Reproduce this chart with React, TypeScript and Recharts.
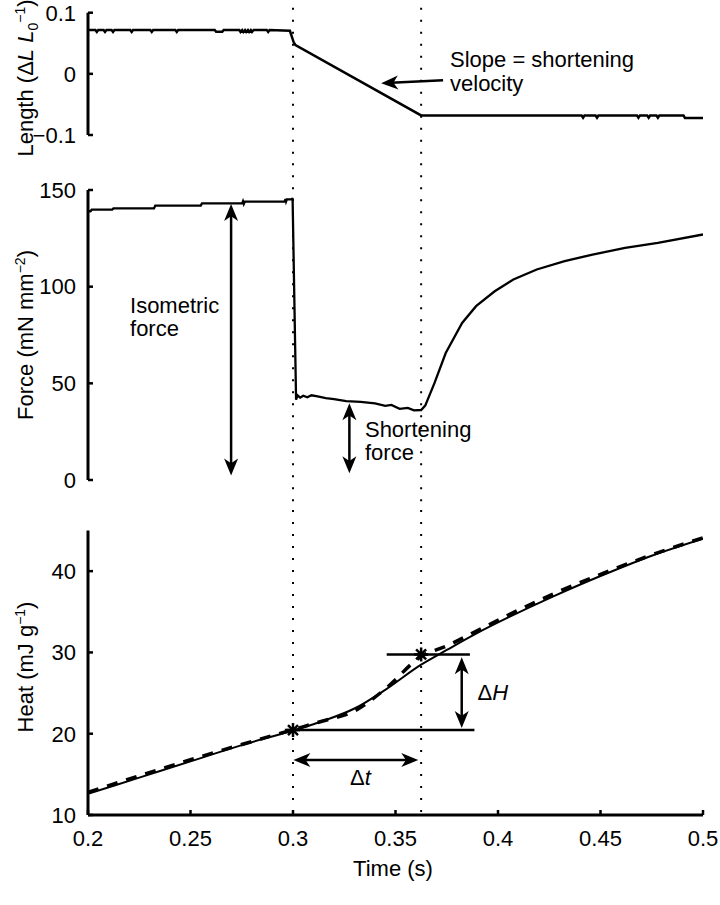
import React from 'react';
import { LineChart, Line, XAxis, YAxis, ReferenceLine, ReferenceDot } from 'recharts';

// ---------------- data ----------------
const xTicks = [0.2, 0.25, 0.3, 0.35, 0.4, 0.45, 0.5];
const lengthTicks = [-0.1, 0, 0.1];
const forceTicks = [0, 50, 100, 150];
const heatTicks = [10, 20, 30, 40];
const markerTimes = [0.3, 0.3625];

const lengthTime = [
  0.2, 0.2036, 0.2043, 0.205, 0.2076, 0.2083, 0.209, 0.2115, 0.2122, 0.2129,
  0.2206, 0.2213, 0.222, 0.2304, 0.2311, 0.2318, 0.2426, 0.2433, 0.244,
  0.2618, 0.2625, 0.2655, 0.2662,
  0.2738, 0.2744, 0.2752, 0.2758, 0.2766, 0.2772, 0.278, 0.2786, 0.2794, 0.28, 0.2808,
  0.2872, 0.2879, 0.2886, 0.2985, 0.3003, 0.3012, 0.3625,
  0.4408, 0.4415, 0.4422, 0.4476, 0.4483, 0.449, 0.4678, 0.4685, 0.4692,
  0.4728, 0.4735, 0.4742, 0.4773, 0.478, 0.4787, 0.4905, 0.4912, 0.5,
];
const lengthValues = [
  0.0717, 0.0717, 0.0685, 0.0717, 0.0717, 0.0685, 0.0717, 0.0717, 0.0685, 0.0717,
  0.0717, 0.0685, 0.0717, 0.0717, 0.0685, 0.0717, 0.0717, 0.0685, 0.0717,
  0.0717, 0.0688, 0.0688, 0.0717,
  0.0717, 0.0685, 0.0717, 0.0685, 0.0717, 0.0685, 0.0717, 0.0685, 0.0717, 0.0685, 0.0717,
  0.0717, 0.0685, 0.0717, 0.0705, 0.052, 0.047, -0.068,
  -0.0683, -0.0718, -0.0683, -0.0683, -0.0718, -0.0683, -0.0683, -0.0718, -0.0683,
  -0.0683, -0.0718, -0.0683, -0.0683, -0.0718, -0.0683, -0.0683, -0.0722, -0.0722,
];

const forceTime = [
  0.2, 0.2012, 0.2018, 0.2118, 0.2124, 0.2322, 0.2328, 0.255, 0.2556, 0.2752,
  0.2756, 0.276, 0.2765, 0.296, 0.2963, 0.2966, 0.297, 0.2995, 0.2998, 0.3015,
  0.3022, 0.3035, 0.305, 0.307, 0.309, 0.312, 0.316, 0.32, 0.326, 0.333,
  0.34, 0.345, 0.348, 0.352, 0.356, 0.359, 0.3625, 0.3645, 0.369, 0.3745,
  0.3825, 0.3893, 0.3984, 0.4075, 0.4189, 0.4325, 0.4461, 0.462, 0.478, 0.5,
];
const forceValues = [
  139, 139, 139.8, 139.8, 140.5, 140.5, 141.9, 141.9, 143.1, 143.1,
  144.2, 142.8, 144.0, 144.0, 145.3, 144.0, 145.2, 145.2, 145.8, 41.5,
  43.8, 42.6, 43.6, 42.8, 43.8, 43.2, 42.4, 41.8, 40.8, 40.4,
  39.6, 38.3, 38.8, 36.8, 37.3, 36.0, 36.2, 38.5, 50.1, 65.7,
  81.2, 89.9, 97.6, 103.7, 108.9, 113.2, 116.6, 120.1, 122.7, 127.0,
];

const heatTime = [0.2, 0.225, 0.25, 0.275, 0.3, 0.315, 0.33, 0.345, 0.3625, 0.375, 0.39, 0.405, 0.427, 0.45, 0.475, 0.5];
const heatMeasured = [12.6, 14.6, 16.6, 18.6, 20.4, 21.6, 23.1, 25.4, 28.5, 30.3, 32.4, 34.3, 36.9, 39.4, 41.9, 44.0];

const heatFitTime = [0.2, 0.25, 0.3, 0.315, 0.33, 0.345, 0.3625, 0.375, 0.39, 0.405, 0.427, 0.45, 0.475, 0.5];
const heatFit = [12.8, 16.8, 20.5, 21.6, 22.8, 25.5, 29.5, 30.8, 32.7, 34.6, 37.2, 39.6, 42.0, 44.1];

const heatMarkers = [20.45, 29.75];

// ---------------- helpers ----------------
const FONT = '"Liberation Sans", Arial, Helvetica, sans-serif';
const BLACK = '#000';

const lengthData = lengthTime.map((t, i) => ({ t, v: lengthValues[i] }));
const forceData = forceTime.map((t, i) => ({ t, v: forceValues[i] }));
const heatData = heatTime.map((t, i) => ({ t, v: heatMeasured[i] }));
const heatFitData = heatFitTime.map((t, i) => ({ t, v: heatFit[i] }));

function headPath(tx: number, ty: number, fx: number, fy: number, len = 17, half = 7) {
  const dx = tx - fx;
  const dy = ty - fy;
  const L = Math.hypot(dx, dy) || 1;
  const ux = dx / L;
  const uy = dy / L;
  const px = -uy;
  const py = ux;
  const bx = tx - ux * len;
  const by = ty - uy * len;
  const nx = tx - ux * len * 0.72;
  const ny = ty - uy * len * 0.72;
  return `M${tx},${ty} L${bx + px * half},${by + py * half} L${nx},${ny} L${bx - px * half},${by - py * half} Z`;
}

const makeArrow = (both: boolean) => (p: any) => {
  const { x1, y1, x2, y2 } = p;
  const dx = x2 - x1;
  const dy = y2 - y1;
  const L = Math.hypot(dx, dy) || 1;
  const ux = dx / L;
  const uy = dy / L;
  const inset = 10;
  const sx = both ? x1 + ux * inset : x1;
  const sy = both ? y1 + uy * inset : y1;
  const ex = x2 - ux * inset;
  const ey = y2 - uy * inset;
  return (
    <g>
      <line x1={sx} y1={sy} x2={ex} y2={ey} stroke={BLACK} strokeWidth={2.5} />
      <path d={headPath(x2, y2, x1, y1)} fill={BLACK} />
      {both && <path d={headPath(x1, y1, x2, y2)} fill={BLACK} />}
    </g>
  );
};

const starShape = (p: any) => {
  const { cx, cy } = p;
  const r = 7;
  const d = 5;
  return (
    <g stroke={BLACK} strokeWidth={2.5}>
      <line x1={cx - r} y1={cy} x2={cx + r} y2={cy} />
      <line x1={cx} y1={cy - r} x2={cx} y2={cy + r} />
      <line x1={cx - d} y1={cy - d} x2={cx + d} y2={cy + d} />
      <line x1={cx - d} y1={cy + d} x2={cx + d} y2={cy - d} />
    </g>
  );
};

const textShape = (lines: React.ReactNode[], lineGap = 23, size = 22) => (p: any) => (
  <text x={p.cx} y={p.cy} fontFamily={FONT} fontSize={size} fill={BLACK}>
    {lines.map((ln, i) => (
      <tspan key={i} x={p.cx} dy={i === 0 ? 0 : lineGap}>
        {ln}
      </tspan>
    ))}
  </text>
);

const YTitle = ({ cx, cy, children }: { cx: number; cy: number; children: React.ReactNode }) => (
  <text
    x={cx}
    y={cy}
    transform={`rotate(-90 ${cx} ${cy})`}
    textAnchor="middle"
    fontFamily={FONT}
    fontSize={22}
    fill={BLACK}
  >
    {children}
  </text>
);

const tickStyle = { fill: BLACK, fontSize: 22, fontFamily: FONT };
const axisLine = { stroke: BLACK, strokeWidth: 3 };
const tickLine = { stroke: BLACK, strokeWidth: 2.5 };
const dotted = { stroke: BLACK, strokeWidth: 2, strokeDasharray: '2 10' };

const W = 720;
const PLOT_LEFT = 88;
const RIGHT = 17;

export default function App() {
  return (
    <div style={{ position: 'absolute', left: 0, top: 0, width: W, height: 905, background: '#fff' }}>
      {/* Length panel */}
      <LineChart width={W} height={160} margin={{ top: 12.7, right: RIGHT, bottom: 25, left: 0 }}>
        <XAxis dataKey="t" type="number" domain={[0.2, 0.5]} hide allowDataOverflow />
        <YAxis
          type="number"
          domain={[-0.1, 0.1]}
          ticks={lengthTicks}
          width={PLOT_LEFT}
          tickSize={-5}
          tickMargin={17}
          tick={tickStyle}
          axisLine={axisLine}
          tickLine={tickLine}
          tickFormatter={(v: number) => (v < 0 ? `\u2212${Math.abs(v)}` : `${v}`)}
          label={() => (
            <YTitle cx={33} cy={78}>
              <tspan>Length (</tspan>
              <tspan>Δ</tspan>
              <tspan fontStyle="italic">L</tspan>
              <tspan> </tspan>
              <tspan fontStyle="italic">L</tspan>
              <tspan fontSize={14} dy={5}>0</tspan>
              <tspan fontSize={14} dy={-13}>−1</tspan>
              <tspan dy={8}>)</tspan>
            </YTitle>
          )}
        />
        {markerTimes.map((t) => (
          <ReferenceLine key={t} segment={[{ x: t, y: 0.108 }, { x: t, y: -0.16 }]} ifOverflow="visible" {...dotted} />
        ))}
        <Line data={lengthData} dataKey="v" type="linear" stroke={BLACK} strokeWidth={2.5} dot={false} isAnimationActive={false} />
        <ReferenceLine
          segment={[{ x: 0.3732, y: -0.0105 }, { x: 0.343, y: -0.0155 }]}
          ifOverflow="visible"
          shape={makeArrow(false)}
        />
        <ReferenceDot x={0.3766} y={0.0115} r={0} ifOverflow="visible" shape={textShape(['Slope = shortening', 'velocity'], 24)} />
      </LineChart>

      {/* Force panel */}
      <LineChart width={W} height={345} margin={{ top: 30, right: RIGHT, bottom: 25, left: 0 }}>
        <XAxis
          dataKey="t"
          type="number"
          domain={[0.2, 0.5]}
          height={0}
          tick={false}
          tickLine={false}
          axisLine={axisLine}
          allowDataOverflow
        />
        <YAxis
          type="number"
          domain={[0, 150]}
          ticks={forceTicks}
          width={PLOT_LEFT}
          tickSize={-5}
          tickMargin={17}
          tick={tickStyle}
          axisLine={axisLine}
          tickLine={tickLine}
          label={() => (
            <YTitle cx={33} cy={175}>
              <tspan>Force (mN mm</tspan>
              <tspan fontSize={14} dy={-8}>−2</tspan>
              <tspan dy={8}>)</tspan>
            </YTitle>
          )}
        />
        {markerTimes.map((t) => (
          <ReferenceLine key={t} segment={[{ x: t, y: 170 }, { x: t, y: -14 }]} ifOverflow="visible" {...dotted} />
        ))}
        <Line data={forceData} dataKey="v" type="linear" stroke={BLACK} strokeWidth={2.3} dot={false} isAnimationActive={false} />
        <ReferenceLine segment={[{ x: 0.2698, y: 142.8 }, { x: 0.2698, y: 2.3 }]} ifOverflow="visible" shape={makeArrow(true)} />
        <ReferenceLine segment={[{ x: 0.3275, y: 39.7 }, { x: 0.3275, y: 3.5 }]} ifOverflow="visible" shape={makeArrow(true)} />
        <ReferenceDot x={0.2205} y={86.2} r={0} ifOverflow="visible" shape={textShape(['Isometric', 'force'], 23)} />
        <ReferenceDot x={0.3351} y={22.4} r={0} ifOverflow="visible" shape={textShape(['Shortening', 'force'], 23)} />
      </LineChart>

      {/* Heat panel */}
      <LineChart width={W} height={400} margin={{ top: 25.5, right: RIGHT, bottom: 0, left: 0 }}>
        <XAxis
          dataKey="t"
          type="number"
          domain={[0.2, 0.5]}
          ticks={xTicks}
          height={90}
          tickSize={-5}
          tickMargin={20}
          tick={tickStyle}
          axisLine={axisLine}
          tickLine={tickLine}
          allowDataOverflow
          label={() => (
            <text x={393} y={371} textAnchor="middle" fontFamily={FONT} fontSize={22} fill={BLACK}>
              Time (s)
            </text>
          )}
        />
        <YAxis
          type="number"
          domain={[10, 45]}
          ticks={heatTicks}
          width={PLOT_LEFT}
          tickSize={-5}
          tickMargin={17}
          tick={tickStyle}
          axisLine={axisLine}
          tickLine={tickLine}
          allowDataOverflow
          label={() => (
            <YTitle cx={33} cy={162}>
              <tspan>Heat (mJ g</tspan>
              <tspan fontSize={14} dy={-8}>−1</tspan>
              <tspan dy={8}>)</tspan>
            </YTitle>
          )}
        />
        {markerTimes.map((t) => (
          <ReferenceLine key={t} segment={[{ x: t, y: 49 }, { x: t, y: 10 }]} ifOverflow="visible" {...dotted} />
        ))}
        <Line data={heatFitData} dataKey="v" type="monotone" stroke={BLACK} strokeWidth={3.5} strokeDasharray="11 9" dot={false} isAnimationActive={false} />
        <Line data={heatData} dataKey="v" type="monotone" stroke={BLACK} strokeWidth={2} dot={false} isAnimationActive={false} />
        <ReferenceLine segment={[{ x: 0.296, y: heatMarkers[0] }, { x: 0.3885, y: heatMarkers[0] }]} ifOverflow="visible" stroke={BLACK} strokeWidth={2.5} />
        <ReferenceLine segment={[{ x: 0.3457, y: heatMarkers[1] }, { x: 0.3863, y: heatMarkers[1] }]} ifOverflow="visible" stroke={BLACK} strokeWidth={2.5} />
        <ReferenceLine segment={[{ x: 0.3823, y: 29.4 }, { x: 0.3823, y: 20.7 }]} ifOverflow="visible" shape={makeArrow(true)} />
        <ReferenceLine segment={[{ x: 0.3002, y: 16.76 }, { x: 0.3611, y: 16.76 }]} ifOverflow="visible" shape={makeArrow(true)} />
        {markerTimes.map((t, i) => (
          <ReferenceDot key={t} x={t} y={heatMarkers[i]} r={0} ifOverflow="visible" shape={starShape} />
        ))}
        <ReferenceDot
          x={0.39}
          y={24.1}
          r={0}
          ifOverflow="visible"
          shape={textShape([<React.Fragment key="h">Δ<tspan fontStyle="italic">H</tspan></React.Fragment>])}
        />
        <ReferenceDot
          x={0.3278}
          y={13.7}
          r={0}
          ifOverflow="visible"
          shape={textShape([<React.Fragment key="t">Δ<tspan fontStyle="italic">t</tspan></React.Fragment>])}
        />
      </LineChart>
    </div>
  );
}
